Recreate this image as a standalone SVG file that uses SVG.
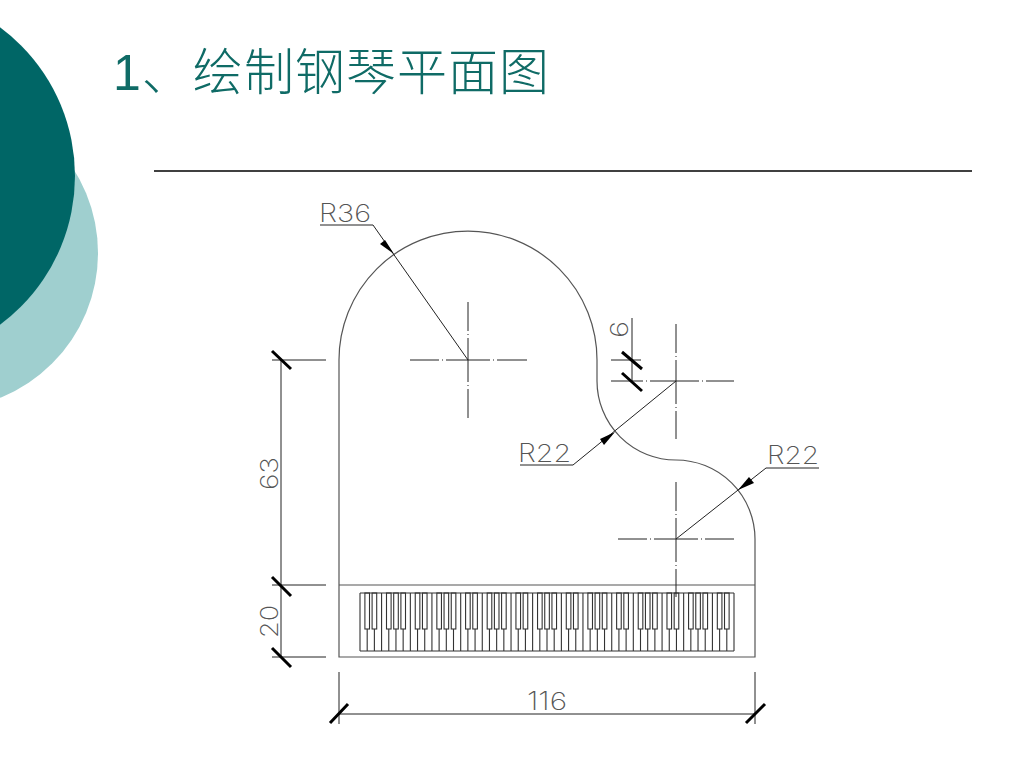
<svg xmlns="http://www.w3.org/2000/svg" width="1024" height="768" viewBox="0 0 1024 768">
<style>
.title{font-family:"Liberation Sans","Noto Sans CJK SC",sans-serif;font-size:50px;fill:#0f6b66;font-weight:300}
.dimt{font-family:"Inter","Liberation Sans",sans-serif;font-weight:200;font-size:25px;fill:#555}
.thin{fill:none;stroke:#222;stroke-width:1}
.out{fill:none;stroke:#555;stroke-width:1.2}
.tick{fill:none;stroke:#000;stroke-width:3}
.key{fill:none;stroke:#333;stroke-width:1.1}
.arrow{fill:#000;stroke:none}
</style>
<defs>
<g id="head" class="key"><path d="M0 0V58M7.19 36V58M14.38 36V58"/><rect x="4.9" y="0" width="4.6" height="36"/><rect x="12.1" y="0" width="4.6" height="36"/></g>
<g id="octave" class="key"><use href="#head"/><path d="M21.58 0V58M28.77 36V58M35.96 36V58M43.15 36V58"/><rect x="26.5" y="0" width="4.6" height="36"/><rect x="33.7" y="0" width="4.6" height="36"/><rect x="40.9" y="0" width="4.6" height="36"/></g>
</defs>
<g id="background">
<circle cx="-58" cy="253" r="156" fill="#9fcfcf"/>
<circle cx="-110" cy="176" r="185" fill="#006666"/>
</g>
<g id="heading">
<text class="title" x="113" y="90" textLength="436">1、绘制钢琴平面图</text>
<path d="M154 171H972" stroke="#000" stroke-width="1.5" fill="none"/>
</g>
<g id="piano-outline">
<path class="out" d="M339 657V360A129 129 0 0 1 597 360V381A79 79 0 0 0 676 460A79 79 0 0 1 755 539V657Z"/>
<path class="out" d="M339 585H755"/>
</g>
<g id="keyboard" transform="translate(360 593)">
<use href="#octave"/>
<use href="#octave" x="50.35"/>
<use href="#octave" x="100.69"/>
<use href="#octave" x="151.04"/>
<use href="#octave" x="201.38"/>
<use href="#octave" x="251.73"/>
<use href="#octave" x="302.07"/>
<use href="#head" x="352.42"/>
<path class="key" d="M374 0V58M0 0H374M0 58H374"/>
</g>
<g id="center-lines" class="thin">
<path d="M410 360H527" stroke-dasharray="29 3 1 3 44 3 1 3 30"/>
<path d="M468 302V418" stroke-dasharray="29 3 1 3 44 3 1 3 29"/>
<path d="M611 381H734" stroke-dasharray="32 3 1 3 49 3 1 3 28"/>
<path d="M676 324V439" stroke-dasharray="29 3 1 3 44 3 1 3 28"/>
<path d="M618 539H734" stroke-dasharray="29 3 1 3 44 3 1 3 29"/>
<path d="M676 482V597" stroke-dasharray="29 3 1 3 44 3 1 3 28"/>
</g>
<g id="connectors">
<g class="thin">
<path d="M320 225H373L468 360"/>
<path d="M520 465H573L676 381"/>
<path d="M819 468H766L676 539"/>
<path d="M632 318V381M611 360H641"/>
<path d="M281 360V657M272 360H326M272 585H326M272 657H326"/>
<path d="M339 672V724M755 672V724M339 714H755"/>
</g>
<path class="arrow" d="M394 254L380 244L385 240Z"/>
<path class="arrow" d="M615 432L604 445L600 439Z"/>
<path class="arrow" d="M738 490L749 477L754 483Z"/>
<path class="tick" d="M622 352L642 369M622 373L642 391M272 351L291 369M272 577L291 596M272 648L291 667M330 723L348 704M746 723L765 704"/>
</g>
<g id="labels">
<text class="dimt" x="319" y="222" textLength="52" lengthAdjust="spacingAndGlyphs">R36</text>
<text class="dimt" x="518" y="462" textLength="53" lengthAdjust="spacingAndGlyphs">R22</text>
<text class="dimt" x="767" y="464" textLength="52" lengthAdjust="spacingAndGlyphs">R22</text>
<text class="dimt" x="527" y="710" textLength="40" lengthAdjust="spacingAndGlyphs">116</text>
<text class="dimt" transform="translate(628 338) rotate(-90)" textLength="17" lengthAdjust="spacingAndGlyphs">6</text>
<text class="dimt" transform="translate(278 490) rotate(-90)" textLength="33" lengthAdjust="spacingAndGlyphs">63</text>
<text class="dimt" transform="translate(278 638) rotate(-90)" textLength="33" lengthAdjust="spacingAndGlyphs">20</text>
</g>
</svg>
